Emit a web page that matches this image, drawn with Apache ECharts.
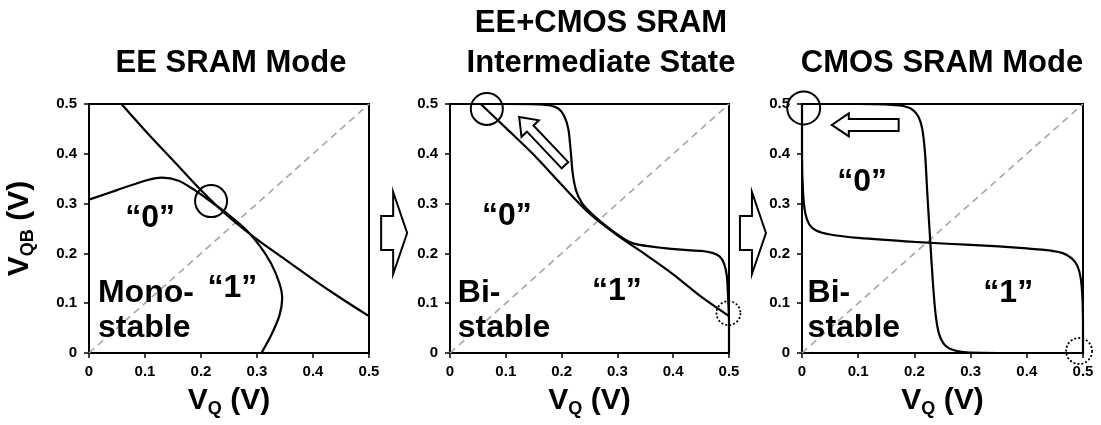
<!DOCTYPE html>
<html>
<head>
<meta charset="utf-8">
<script src="https://cdn.jsdelivr.net/npm/echarts@6/dist/echarts.min.js"></script>
<style>
  html, body { margin: 0; padding: 0; background: #fff; }
  #chart { width: 1101px; height: 425px; }
</style>
</head>
<body>
<div id="chart"></div>
<script>
// Butterfly curves (V_QB vs V_Q) for three SRAM operating modes.
// Each curve is a list of [V_Q, V_QB] points in volts.

const tickValues = [0, 0.1, 0.2, 0.3, 0.4, 0.5];
const tickLabels = ['0', '0.1', '0.2', '0.3', '0.4', '0.5'];

const panelTitles = ['EE SRAM Mode', 'EE+CMOS SRAM\nIntermediate State', 'CMOS SRAM Mode'];

// EE SRAM mode
const eeLine1 = [[0.058, 0.5], [0.1, 0.447], [0.15, 0.387], [0.2, 0.327], [0.25, 0.273], [0.3, 0.228],
  [0.35, 0.188], [0.4, 0.148], [0.45, 0.11], [0.5, 0.074]];
const eeCurve1 = [[0, 0.308], [0.05, 0.327], [0.1, 0.346], [0.13, 0.352], [0.16, 0.346], [0.19, 0.326],
  [0.22, 0.302], [0.25, 0.277], [0.28, 0.248], [0.305, 0.215], [0.325, 0.18], [0.34, 0.14],
  [0.345, 0.11], [0.34, 0.075], [0.325, 0.035], [0.308, 0]];

// EE+CMOS intermediate state
const eeLine2 = [[0.055, 0.5], [0.1, 0.452], [0.15, 0.398], [0.2, 0.338], [0.25, 0.28], [0.3, 0.236],
  [0.35, 0.198], [0.4, 0.158], [0.45, 0.113], [0.5, 0.074]];
const cmosCurve2 = [[0, 0.5], [0.1, 0.5], [0.16, 0.499], [0.18, 0.497], [0.195, 0.49], [0.205, 0.475],
  [0.212, 0.45], [0.216, 0.41], [0.22, 0.36], [0.226, 0.326], [0.236, 0.302], [0.25, 0.284],
  [0.27, 0.264], [0.3, 0.238], [0.32, 0.224], [0.34, 0.217], [0.38, 0.211], [0.42, 0.207],
  [0.45, 0.205], [0.47, 0.201], [0.483, 0.194], [0.491, 0.18], [0.496, 0.156], [0.498, 0.12],
  [0.5, 0.06], [0.5, 0]];

// CMOS SRAM mode
const cmosCurveA3 = [[0, 0.5], [0.1, 0.5], [0.15, 0.499], [0.175, 0.497], [0.195, 0.49], [0.207, 0.475],
  [0.214, 0.45], [0.219, 0.4], [0.223, 0.32], [0.228, 0.228], [0.233, 0.14], [0.238, 0.075],
  [0.244, 0.038], [0.255, 0.015], [0.272, 0.005], [0.3, 0.001], [0.4, 0], [0.5, 0]];
const cmosCurveB3 = [[0, 0.5], [0, 0.4], [0.002, 0.32], [0.006, 0.28], [0.013, 0.258], [0.025, 0.246],
  [0.05, 0.238], [0.1, 0.231], [0.2, 0.223], [0.3, 0.217], [0.35, 0.214], [0.4, 0.21], [0.44, 0.206],
  [0.465, 0.2], [0.48, 0.19], [0.49, 0.175], [0.496, 0.15], [0.499, 0.11], [0.5, 0.05], [0.5, 0]];

const diagonal = [[0, 0], [0.5, 0.5]];

// Stable points (solid) and lost states (dotted): [V_Q, V_QB]
const stablePoints = [[[0.218, 0.305]], [[0.066, 0.49]], [[0.003, 0.492]]];
const lostPoints = [[], [[0.499, 0.08]], [[0.493, 0.004]]];

const FONT = '"Liberation Sans", Arial, Helvetica, sans-serif';
const grids = [
  { left: 89, top: 104, width: 280, height: 249 },
  { left: 450, top: 104, width: 279, height: 249 },
  { left: 802, top: 104, width: 281, height: 249 }
];

const chart = echarts.init(document.getElementById('chart'), null, { renderer: 'canvas' });

const axisName = (sub) => ({
  name: '{v|V}{s|' + sub + '}{v| (V)}',
  nameTextStyle: {
    rich: {
      v: { fontFamily: FONT, fontWeight: 'bold', fontSize: 30, lineHeight: 34, color: '#000' },
      s: { fontFamily: FONT, fontWeight: 'bold', fontSize: 18, lineHeight: 6, verticalAlign: 'bottom', color: '#000' }
    }
  }
});

const labelFmt = (v) => {
  const i = tickValues.findIndex(t => Math.abs(t - v) < 1e-9);
  return i >= 0 ? tickLabels[i] : '';
};

const baseAxis = {
  type: 'value', min: 0, max: 0.5, interval: 0.1,
  axisLine: { show: true, onZero: false, lineStyle: { color: '#000', width: 2 } },
  axisTick: { show: true, inside: false, length: 5, lineStyle: { color: '#000', width: 1.5 } },
  splitLine: { show: false },
  axisLabel: { fontFamily: FONT, fontWeight: 'bold', fontSize: 15, color: '#000', formatter: labelFmt }
};

const xAxes = grids.map((g, i) => Object.assign({}, baseAxis, {
  gridIndex: i,
  axisLabel: Object.assign({}, baseAxis.axisLabel, { margin: 11 }),
  nameLocation: 'middle', nameGap: 31
}, axisName('Q')));

const yAxes = grids.map((g, i) => Object.assign({}, baseAxis, {
  gridIndex: i,
  axisLabel: Object.assign({}, baseAxis.axisLabel, { margin: 12 })
}, i === 0 ? Object.assign({ nameLocation: 'middle', nameGap: 52, nameRotate: 90 }, axisName('QB')) : {}));

const curveStyle = { color: '#000', width: 2.2 };
const curves = [[eeLine1, eeCurve1], [eeLine2, cmosCurve2], [cmosCurveA3, cmosCurveB3]];

const series = [];
curves.forEach((pair, i) => {
  series.push({
    type: 'line', xAxisIndex: i, yAxisIndex: i, data: diagonal, showSymbol: false, silent: true,
    lineStyle: { color: '#a6a6a6', width: 1.6, type: [7, 5] }
  });
  pair.forEach((d) => series.push({
    type: 'line', xAxisIndex: i, yAxisIndex: i, data: d, showSymbol: false, smooth: 0.3,
    silent: true, lineStyle: curveStyle
  }));
  series.push({
    type: 'scatter', xAxisIndex: i, yAxisIndex: i, data: stablePoints[i], clip: false, silent: true,
    symbol: 'circle', symbolSize: i === 2 ? 33 : 32, z: 5,
    itemStyle: { color: 'rgba(0,0,0,0)', borderColor: '#000', borderWidth: 2, opacity: 1 }
  });
  if (lostPoints[i].length) {
    series.push({
      type: 'scatter', xAxisIndex: i, yAxisIndex: i, data: lostPoints[i], clip: false, silent: true,
      symbol: 'circle', symbolSize: i === 1 ? 24 : 26, z: 5,
      itemStyle: { color: 'rgba(0,0,0,0)', borderColor: '#000', borderWidth: 1.8, borderType: [2, 2], opacity: 1 }
    });
  }
});

const titleCenters = [226, 596, 937];
const titles = panelTitles.map((t, i) => ({
  text: t, left: titleCenters[i], top: i === 1 ? -2 : 38, textAlign: 'center',
  textStyle: { fontFamily: FONT, fontWeight: 'bold', fontSize: 31, lineHeight: 40, color: '#000' }
}));

chart.setOption({
  animation: false,
  backgroundColor: '#fff',
  title: titles,
  grid: grids.map(g => Object.assign({ show: true, borderColor: '#000', borderWidth: 2, backgroundColor: 'transparent' }, g)),
  xAxis: xAxes,
  yAxis: yAxes,
  series: series
});

// ---- annotations: in-plot labels and arrows ----
const px = (i, p) => chart.convertToPixel({ xAxisIndex: i, yAxisIndex: i }, p);

function hollowArrow(tail, tip, shaftW, headW, headL) {
  const dx = tip[0] - tail[0], dy = tip[1] - tail[1];
  const len = Math.hypot(dx, dy);
  const ux = dx / len, uy = dy / len, nx = -uy, ny = ux;
  const hx = tip[0] - ux * headL, hy = tip[1] - uy * headL;
  return [
    [tail[0] + nx * shaftW / 2, tail[1] + ny * shaftW / 2],
    [hx + nx * shaftW / 2, hy + ny * shaftW / 2],
    [hx + nx * headW / 2, hy + ny * headW / 2],
    [tip[0], tip[1]],
    [hx - nx * headW / 2, hy - ny * headW / 2],
    [hx - nx * shaftW / 2, hy - ny * shaftW / 2],
    [tail[0] - nx * shaftW / 2, tail[1] - ny * shaftW / 2]
  ];
}

const arrowShape = (points) => ({
  type: 'polygon', silent: true, z: 100,
  shape: { points: points },
  style: { fill: '#fff', stroke: '#000', lineWidth: 2, lineJoin: 'miter' }
});

// in-plot arrows, anchored in data space: [panel, tail, tip]
const plotArrows = [
  [1, [0.206, 0.377], [0.124, 0.474], 9, 24, 16],
  [2, [0.172, 0.458], [0.053, 0.458], 12, 23, 17]
];

// in-plot labels: [panel, text, V_Q, V_QB, align]
const plotLabels = [
  [0, '\u201C0\u201D', 0.109, 0.27, 'center'],
  [0, 'Mono-', 0.016, 0.12, 'left'],
  [0, 'stable', 0.016, 0.05, 'left'],
  [0, '\u201C1\u201D', 0.256, 0.13, 'center'],
  [1, '\u201C0\u201D', 0.102, 0.275, 'center'],
  [1, 'Bi-', 0.014, 0.12, 'left'],
  [1, 'stable', 0.014, 0.05, 'left'],
  [1, '\u201C1\u201D', 0.299, 0.124, 'center'],
  [2, '\u201C0\u201D', 0.107, 0.344, 'center'],
  [2, 'Bi-', 0.01, 0.12, 'left'],
  [2, 'stable', 0.01, 0.05, 'left'],
  [2, '\u201C1\u201D', 0.367, 0.12, 'center']
];

const graphics = [];
plotArrows.forEach(([i, tail, tip, sw, hw, hl]) => {
  graphics.push(arrowShape(hollowArrow(px(i, tail), px(i, tip), sw, hw, hl)));
});
plotLabels.forEach(([i, text, x, y, align]) => {
  const p = px(i, [x, y]);
  graphics.push({
    type: 'text', silent: true, z: 100, x: p[0], y: p[1],
    style: {
      text: text, fill: '#000', font: 'bold 32px ' + FONT,
      align: align, verticalAlign: 'middle', textAlign: align, textVerticalAlign: 'middle'
    }
  });
});

// block arrows between panels
[[grids[0], grids[1]], [grids[1], grids[2]]].forEach(([a, b]) => {
  const gapL = a.left + a.width, gapR = b.left;
  const x0 = gapL + (gapR - gapL) * 0.15, xb = x0 + 12, xt = xb + 14;
  const yc = 233;
  graphics.push(arrowShape([[x0, yc - 17], [xb, yc - 17], [xb, yc - 41], [xt, yc], [xb, yc + 41], [xb, yc + 17], [x0, yc + 17]]));
});

chart.setOption({ graphic: graphics });
</script>
</body>
</html>
